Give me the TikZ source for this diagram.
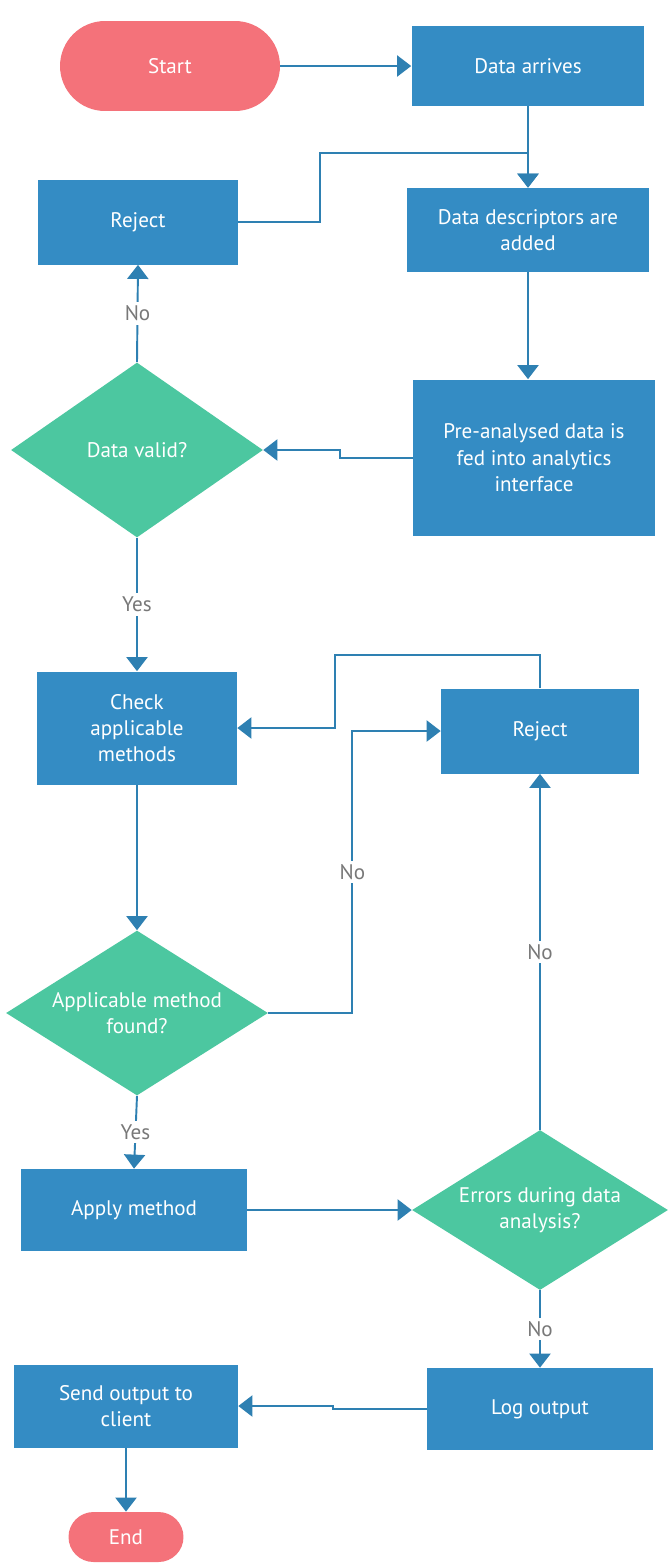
\documentclass[tikz,border=0pt]{standalone}
\usepackage{fontspec}
\setmainfont{PT Sans}
\usetikzlibrary{shapes.geometric,arrows.meta}
\definecolor{boxblue}{RGB}{52,140,196}
\definecolor{lineblue}{RGB}{46,128,178}
\definecolor{decgreen}{RGB}{76,199,160}
\definecolor{termred}{RGB}{244,114,122}
\definecolor{lblgray}{RGB}{120,120,120}
\begin{document}
\begin{tikzpicture}[x=0.02cm,y=-0.02cm,>={Triangle[length=8pt,width=12pt]},
  procbox/.style={fill=boxblue,text=white,align=center,font=\fontsize{12}{15}\selectfont,inner sep=2pt},
  decbox/.style={diamond,aspect=1.6,fill=decgreen,text=white,align=center,font=\fontsize{12}{15}\selectfont,inner sep=0pt},
  termbox/.style={fill=termred,text=white,align=center,font=\fontsize{12}{15}\selectfont},
  lbl/.style={fill=white,text=lblgray,font=\fontsize{12}{15}\selectfont,inner sep=2pt},
  flow/.style={->,draw=lineblue,line width=1.1pt}]
  \fill[white] (0,0) rectangle (670,1563);
  \useasboundingbox (0,0) rectangle (670,1563);
  \node[termbox,minimum width=4.4cm,minimum height=1.8cm,rounded corners=0.9cm] (start) at (170,66) {Start};
  \node[procbox,minimum width=4.66cm,minimum height=1.6cm] (arrive) at (528,66) {Data arrives};
  \node[procbox,minimum width=4cm,minimum height=1.7cm] (rej1) at (138,222) {Reject};
  \node[procbox,minimum width=4.86cm,minimum height=1.68cm] (desc) at (528,230) {Data descriptors are\\added};
  \node[procbox,minimum width=4.84cm,minimum height=3.14cm] (pre) at (534,458) {Pre-analysed data is\\fed into analytics\\interface};
  \node[decbox,aspect=1.44,minimum width=5.04cm,minimum height=3.5cm] (valid) at (137,450) {Data valid?};
  \node[procbox,minimum width=4cm,minimum height=2.26cm] (check) at (137,728) {Check\\applicable\\methods};
  \node[procbox,minimum width=3.96cm,minimum height=1.7cm] (rej2) at (540,731) {Reject};
  \node[decbox,minimum width=5.24cm,minimum height=3.3cm] (found) at (137,1013) {Applicable method\\found?};
  \node[procbox,minimum width=4.52cm,minimum height=1.64cm] (apply) at (134,1210) {Apply method};
  \node[decbox,minimum width=5.12cm,minimum height=3.2cm] (err) at (540,1210) {Errors during data\\analysis?};
  \node[procbox,minimum width=4.52cm,minimum height=1.64cm] (log) at (540,1409) {Log output};
  \node[procbox,minimum width=4.48cm,minimum height=1.66cm] (send) at (126,1406) {Send output to\\client};
  \node[termbox,minimum width=2.3cm,minimum height=1cm,rounded corners=0.5cm] (end) at (126,1537) {End};
  \coordinate (loopL) at (320,153);
  \coordinate (loopR) at (335,655);
  \draw[flow] (start) -- (arrive);
  \draw[flow] (arrive) -- (desc);
  \draw[flow] (rej1.east) -| (loopL) -| (desc.north);
  \draw[flow] (desc) -- (desc |- pre.north);
  \draw[flow] (pre.west) -- ++(-73,0) |- (valid.east);
  \draw[flow] (valid.north) -- node[lbl]{No} (rej1.south);
  \draw[flow] (valid.south) -- node[lbl]{Yes} (check.north);
  \draw[flow] (check.south) -- (found.north);
  \draw[flow] (found.east) -- ++(84,0) |- node[lbl,pos=0.25]{No} (rej2.west);
  \draw[flow] (rej2.north) |- (loopR) |- (check.east);
  \draw[flow] (found.south) -- node[lbl]{Yes} (apply.north);
  \draw[flow] (apply) -- (err);
  \draw[flow] (err.north) -- node[lbl]{No} (rej2.south);
  \draw[flow] (err.south) -- node[lbl]{No} (log.north);
  \draw[flow] (log.west) -- ++(-94,0) |- (send.east);
  \draw[flow] (send) -- (end);
\end{tikzpicture}
\end{document}
